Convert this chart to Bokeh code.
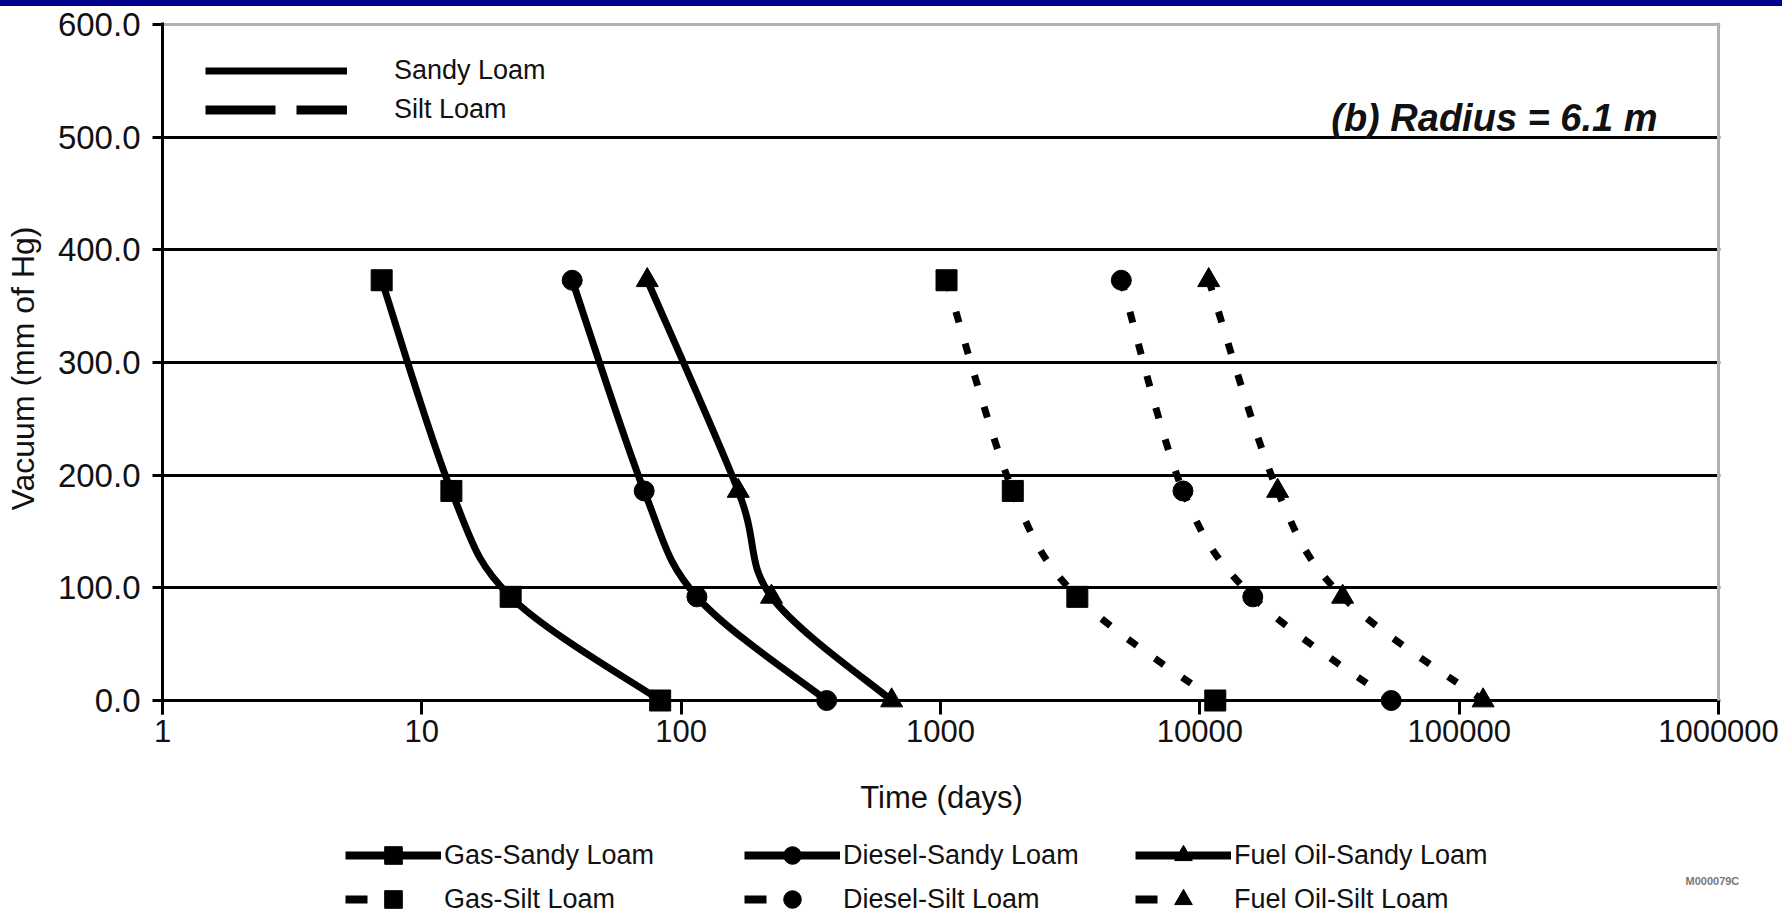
import math

from bokeh.embed import file_html
from bokeh.layouts import column
from bokeh.models import (CustomJSTickFormatter, Div, FixedTicker, Label, Legend,
                          LegendItem, PrintfTickFormatter, Range1d, Span)
from bokeh.plotting import figure
from bokeh.resources import INLINE

# Applied vacuum levels (mm of Hg)
vacuum = [373, 186, 92, 0]

# Time needed to reach each vacuum level (days), radius = 6.1 m
gas_sandy = [7.0, 13.0, 22.0, 83.0]
diesel_sandy = [38.0, 72.0, 115.0, 364.0]
fuel_oil_sandy = [74.0, 166.0, 223.0, 648.0]
gas_silt = [1055.0, 1900.0, 3370.0, 11470.0]
diesel_silt = [4980.0, 8610.0, 16000.0, 54700.0]
fuel_oil_silt = [10820.0, 19950.0, 35530.0, 123700.0]

series_names = ["Gas-Sandy Loam", "Diesel-Sandy Loam", "Fuel Oil-Sandy Loam",
                "Gas-Silt Loam", "Diesel-Silt Loam", "Fuel Oil-Silt Loam"]
soil_names = ["Sandy Loam", "Silt Loam"]

x_ticks = [1, 10, 100, 1000, 10000, 100000, 1000000]
x_tick_labels = ["1", "10", "100", "1000", "10000", "100000", "1000000"]
y_ticks = [0, 100, 200, 300, 400, 500, 600]
y_grid = [0, 100, 200, 300, 400, 500]

FONT = "Liberation Sans"
INK = "#111111"
FRAME_GREY = "#b5b0b0"

# frame geometry (pixels)
FRAME_LEFT, FRAME_RIGHT = 162, 1720
PX_PER_DECADE = (1718 - 162) / 6.0
PX_PER_UNIT = 676 / 600.0
MAIN_H, FRAME_TOP, FRAME_BOTTOM = 824, 16, 708


def smooth_segments(xs, ys):
    """Cubic Bezier pieces through the points, shaped in log-x space."""
    u = [math.log10(v) for v in xs]
    n = len(u)
    tu, ty = [], []
    for i in range(n):
        a, b = max(i - 1, 0), min(i + 1, n - 1)
        tu.append((u[b] - u[a]) / 6.0)
        ty.append((ys[b] - ys[a]) / 6.0)
    seg = dict(x0=[], y0=[], x1=[], y1=[], cx0=[], cy0=[], cx1=[], cy1=[])
    for i in range(n - 1):
        seg["x0"].append(xs[i])
        seg["y0"].append(ys[i])
        seg["x1"].append(xs[i + 1])
        seg["y1"].append(ys[i + 1])
        seg["cx0"].append(10 ** (u[i] + tu[i]))
        seg["cy0"].append(ys[i] + ty[i])
        seg["cx1"].append(10 ** (u[i + 1] - tu[i + 1]))
        seg["cy1"].append(ys[i + 1] - ty[i + 1])
    return seg


# the frame runs a little past 0 and 1e6 so end markers and ticks are not cut
x_end = 10 ** (6 + (FRAME_RIGHT - 1718) / PX_PER_DECADE)
y_start = -14 / PX_PER_UNIT
y_end = 600 + 2 / PX_PER_UNIT

p = figure(width=1782, height=MAIN_H, x_axis_type="log",
           x_range=Range1d(1, x_end), y_range=Range1d(y_start, y_end),
           output_backend="svg", toolbar_location=None, title=None,
           min_border_left=FRAME_LEFT, min_border_right=1782 - FRAME_RIGHT,
           min_border_top=FRAME_TOP, min_border_bottom=MAIN_H - FRAME_BOTTOM)
p.frame_align = False

p.background_fill_color = "white"
p.border_fill_color = "white"
p.outline_line_color = None

# axes
p.xaxis.ticker = FixedTicker(ticks=x_ticks, minor_ticks=[])
p.xaxis.formatter = CustomJSTickFormatter(
    args=dict(vals=x_ticks, labels=x_tick_labels),
    code="const i = vals.findIndex(v => Math.abs(v - tick) < 1e-6 * v); return i >= 0 ? labels[i] : '';")
p.yaxis.ticker = FixedTicker(ticks=y_ticks, minor_ticks=[])
p.yaxis.formatter = PrintfTickFormatter(format="%.1f")

for ax in (p.xaxis[0], p.yaxis[0]):
    ax.axis_line_color = "black"
    ax.axis_line_width = 3
    ax.major_tick_line_color = "black"
    ax.major_tick_line_width = 3
    ax.minor_tick_line_color = None
    ax.major_label_text_font = FONT
    ax.major_label_text_color = INK
    ax.axis_label_text_font = FONT
    ax.axis_label_text_font_style = "normal"
    ax.axis_label_text_color = INK

# x axis: the zero line is a grid line, ticks hang below it
p.xaxis.axis_line_color = None
p.xaxis.major_tick_in = 14
p.xaxis.major_tick_out = 0
p.xaxis.major_label_text_font_size = "31px"
p.xaxis.major_label_standoff = 5
p.xaxis.axis_label = "Time (days)"
p.xaxis.axis_label_text_font_size = "31px"
p.xaxis.axis_label_standoff = 35

p.yaxis.major_tick_in = 0
p.yaxis.major_tick_out = 10
p.yaxis.major_label_text_font_size = "33px"
p.yaxis.major_label_standoff = 12
p.yaxis.axis_label = "Vacuum (mm of Hg)"
p.yaxis.axis_label_text_font_size = "32px"
p.yaxis.axis_label_standoff = 14

p.xgrid.visible = False
p.ygrid.ticker = FixedTicker(ticks=y_grid, minor_ticks=[])
p.ygrid.grid_line_color = "black"
p.ygrid.grid_line_width = 3

# grey top and right border of the plot area
p.add_layout(Span(location=600, dimension="width", line_color=FRAME_GREY,
                  line_width=3, level="underlay"))
p.add_layout(Span(location=1e6, dimension="height", line_color=FRAME_GREY,
                  line_width=3, level="underlay"))

# data curves and markers
all_times = [gas_sandy, diesel_sandy, fuel_oil_sandy, gas_silt, diesel_silt, fuel_oil_silt]
markers = ["square", "circle", "triangle"] * 2
marker_sizes = {"square": 21, "circle": 20, "triangle": 22}
curve_dash = ["solid"] * 3 + ["11 22"] * 3

for times, mk, dash in zip(all_times, markers, curve_dash):
    p.bezier(line_color="black", line_width=7, line_dash=dash,
             **smooth_segments(times, vacuum))
    p.scatter(x=times, y=vacuum, marker=mk, size=marker_sizes[mk],
              fill_color="black", line_color="black")


def make_legend(items, loc, gw, gh, standoff, size):
    return Legend(items=items, location=loc, orientation="vertical",
                  glyph_width=gw, glyph_height=gh, label_height=gh,
                  label_standoff=standoff, spacing=0, padding=0, margin=0,
                  border_line_color=None, background_fill_alpha=0,
                  label_text_font=FONT, label_text_font_size=size,
                  label_text_color=INK)


# soil-type key in the upper left (keys sit outside the visible ranges)
soil_solid = p.line(x=[1e-3, 2e-3], y=[-100, -100], line_color="black", line_width=7)
soil_dash = p.line(x=[1e-3, 2e-3], y=[-100, -100], line_color="black", line_width=9,
                   line_dash="70 21")
top_row = 70 - 19.5 - (FRAME_TOP + 6)
p.add_layout(make_legend(
    [LegendItem(label=soil_names[0], renderers=[soil_solid]),
     LegendItem(label=soil_names[1], renderers=[soil_dash])],
    (205 - FRAME_LEFT, (FRAME_BOTTOM - FRAME_TOP) - top_row - 78), 142, 39, 47, "27px"))

p.add_layout(Label(x=1657 - FRAME_LEFT, y=FRAME_BOTTOM - 111, x_units="screen",
                   y_units="screen", text="(b) Radius = 6.1 m", text_align="right",
                   text_baseline="middle", text_font=FONT,
                   text_font_style="bold italic", text_font_size="38px",
                   text_color=INK))

# series key below the axis
LEG_H = 85
ROW_H = 44
leg = figure(width=1782, height=LEG_H, x_range=Range1d(0, 1), y_range=Range1d(0, 1),
             output_backend="svg", toolbar_location=None, title=None,
             x_axis_location=None, y_axis_location=None,
             min_border_left=0, min_border_right=0, min_border_top=0, min_border_bottom=0)
leg.frame_align = False
leg.outline_line_color = None
leg.grid.visible = False
leg.background_fill_color = "white"
leg.border_fill_color = "white"

key_solid = leg.line(x=[-10, -9], y=[-10, -10], line_color="black", line_width=8)
key_dash = leg.line(x=[-10, -9], y=[-10, -10], line_color="black", line_width=8,
                    line_dash="22 200")
key_marks = [leg.scatter(x=[-10], y=[-10], marker=mk, fill_color="black",
                         line_color="black") for mk in markers]

col_x = [345, 744, 1135]
leg_top = 3
for c in range(3):
    items = [LegendItem(label=series_names[c], renderers=[key_solid, key_marks[c]]),
             LegendItem(label=series_names[c + 3], renderers=[key_dash, key_marks[c + 3]])]
    leg.add_layout(make_legend(items, (col_x[c], LEG_H - leg_top - 2 * ROW_H),
                               96, ROW_H, 3, "27px"))

leg.add_layout(Label(x=1685, y=LEG_H - 50, x_units="screen", y_units="screen",
                     text="M000079C", text_font=FONT, text_font_style="bold",
                     text_baseline="middle", text_font_size="11px",
                     text_color="#777777"))

bar = Div(text="", width=1782, height=6, margin=0,
          styles={"background-color": "#00008c"})

layout = column(bar, p, leg, spacing=0)
open("out.html", "w").write(file_html(layout, INLINE))
